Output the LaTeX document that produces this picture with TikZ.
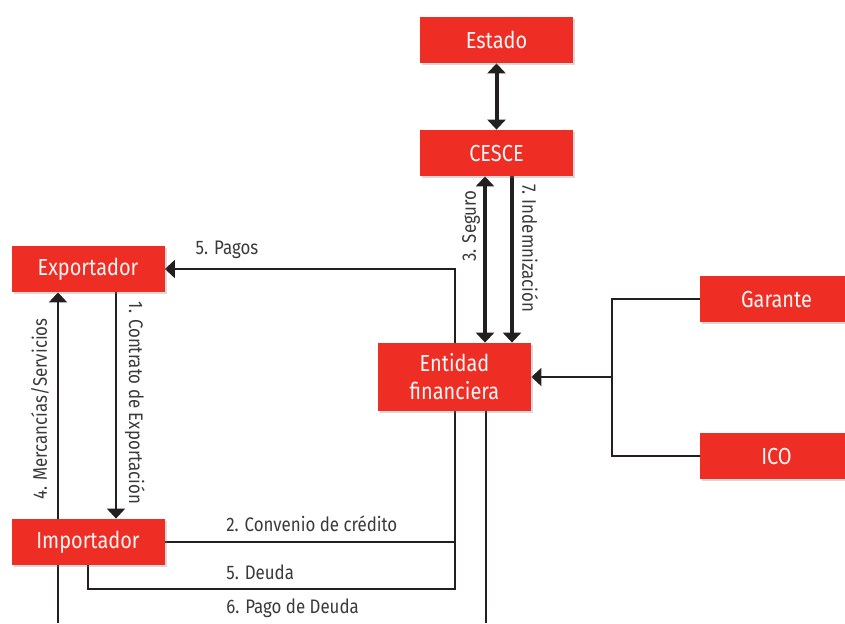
\documentclass[tikz,border=0pt]{standalone}
\usepackage{fontspec}
\setmainfont[FakeStretch=0.86]{Fira Sans}
\usepackage{tikz}
\usetikzlibrary{arrows.meta,shadows,backgrounds}
\definecolor{rojo}{HTML}{EE2E24}
\definecolor{linea}{HTML}{231F20}
\definecolor{texto}{HTML}{3A3A3A}

\begin{document}
\begin{tikzpicture}[x=0.5pt,y=-0.5pt]
\tikzstyle{box}=[rectangle,fill=rojo,text=white!95!rojo,minimum width=76.5pt,minimum height=23pt,inner sep=0pt,align=center,font=\fontsize{11.6}{14}\selectfont,drop shadow={shadow xshift=1.2pt,shadow yshift=-1.2pt,opacity=0.3}]
\tikzstyle{lbl}=[text=texto,inner sep=0pt,font=\fontsize{9.8}{11}\selectfont]
\tikzstyle{thin}=[draw=linea,line width=1pt]
\tikzstyle{thick}=[draw=linea,line width=2pt]
\tikzstyle{arr}=[-{Triangle[width=9pt,length=5pt]}]
\tikzstyle{dbl}=[{Triangle[width=9pt,length=5pt]}-{Triangle[width=9pt,length=5pt]}]
\useasboundingbox (0,0) rectangle (845,623);
% boxes
\node[box] (estado) at (496.5,40) {Estado};
\node[box] (cesce) at (496.5,153) {CESCE};
\node[box] (exportador) at (88,269) {Exportador};
\node[box,minimum height=34pt] (entidad) at (454.5,377) {Entidad\\financiera};
\node[box] (garante) at (776.5,299) {Garante};
\node[box] (ico) at (776.5,456) {ICO};
\node[box] (importador) at (88,542) {Importador};
\coordinate (bajo4) at (58,623);
\coordinate (bajo6) at (486,623);
\coordinate (union) at (612,377);
\begin{scope}[on background layer]
% CESCE
\draw[thick,dbl] (estado) -- (cesce);
\draw[thick,dbl] ([xshift=-5.75pt]cesce.south) -- ([xshift=-5.75pt]cesce.south |- entidad.north);
\draw[thick,arr] ([xshift=7.75pt]cesce.south) -- ([xshift=7.75pt]cesce.south |- entidad.north);
% exportador / importador
\draw[thin,arr] (entidad.north) |- (exportador.east);
\draw[thin,arr] ([xshift=14pt]exportador.south) -- ([xshift=14pt]exportador.south |- importador.north);
\draw[thin,arr] (bajo4) -- (bajo4 |- exportador.south);
\draw[thin] (importador.east) -| (entidad.south);
\draw[thin] (importador.south) -- ++(0,24) -| (entidad.south);
\draw[thin] (bajo6 |- entidad.south) -- (bajo6);
% garante / ICO
\draw[thin] (garante.west) -| (union) |- (ico.west);
\draw[thin,arr] (union) -- (entidad.east);
\end{scope}
% labels
\node[lbl] (l5a) at (227,250) {5. Pagos};
\node[lbl,rotate=90] (l3) at (471,226) {3. Seguro};
\node[lbl,rotate=-90] (l7) at (530,248) {7. Indemnización};
\node[lbl,rotate=-90] (l1) at (135,403) {1. Contrato de Exportación};
\node[lbl,rotate=90] (l4) at (40,409) {4. Mercancías/Servicios};
\node[lbl,anchor=west] (l2) at (226,524) {2. Convenio de crédito};
\node[lbl,anchor=west] (l5b) at (226,572) {5. Deuda};
\node[lbl,anchor=west] (l6) at (226,608) {6. Pago de Deuda};
\end{tikzpicture}
\end{document}
